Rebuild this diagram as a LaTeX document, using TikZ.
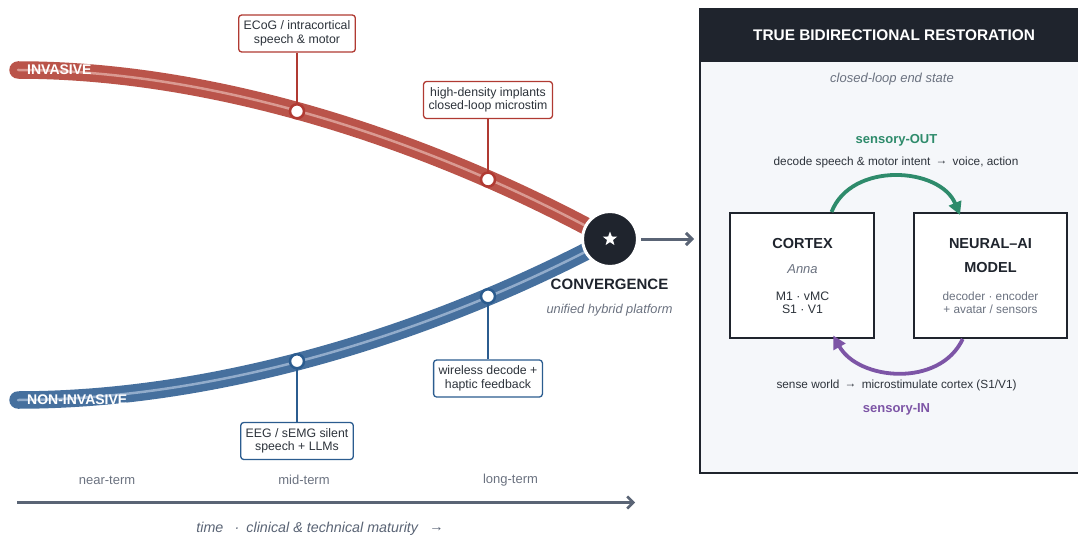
\documentclass[tikz,border=0pt]{standalone}
\usepackage{fontspec}
\setmainfont{Liberation Sans}
\usetikzlibrary{arrows.meta,shapes.geometric,calc}
\definecolor{invred}{HTML}{BA544A}
\definecolor{invlight}{HTML}{DA9A92}
\definecolor{invdark}{HTML}{B03A32}
\definecolor{nonblue}{HTML}{46709E}
\definecolor{nonlight}{HTML}{92ACCB}
\definecolor{nondark}{HTML}{2B5C8F}
\definecolor{ink}{HTML}{1F242D}
\definecolor{txt}{HTML}{2D333B}
\definecolor{muted}{HTML}{6B7280}
\definecolor{axisgray}{HTML}{5A6475}
\definecolor{panelbg}{HTML}{F5F7FA}
\definecolor{outgreen}{HTML}{2E8B6B}
\definecolor{inpurple}{HTML}{7D55A6}
\newcommand{\rarr}{\raisebox{0.6pt}{→}}
\begin{document}
\begin{tikzpicture}[x=1pt,y=-1pt,
  track/.style={line width=17.5pt, line cap=round, draw=#1},
  stripe/.style={line width=2.5pt, draw=#1, line cap=round},
  marker/.style={circle, fill=white, draw=#1, line width=2.5pt, minimum size=14pt, inner sep=0pt},
  callout/.style={draw=#1, line width=1.3pt, fill=white, rounded corners=3pt, align=center,
    font=\fontsize{12.3}{13.4}\selectfont, text=txt, inner xsep=5pt, inner ysep=4pt, minimum height=37pt},
  leader/.style={draw=#1, line width=1.3pt},
  tracklabel/.style={font=\fontsize{14}{16}\selectfont\bfseries, text=white, anchor=west, inner sep=0pt},
  timelabel/.style={font=\fontsize{13}{15}\selectfont, text=muted},
  grayarrow/.style={draw=axisgray, line width=#1, -{Straight Barb[length=6pt,width=12pt]}},
  boxnode/.style={draw=ink, line width=2pt, fill=white, inner sep=0pt, minimum height=125pt},
  boxtitle/.style={font=\fontsize{14.5}{17}\selectfont\bfseries, text=ink},
  loop/.style={draw=#1, line width=3.8pt, -{Triangle[length=13pt,width=13pt]}},
  small/.style={font=\fontsize{11.8}{13.4}\selectfont, text=txt, align=center}
]
\useasboundingbox (0,0) rectangle (1078,540);

% right panel
\node[draw=ink, line width=2pt, fill=panelbg, minimum width=388pt, minimum height=464pt,
  inner sep=0pt, anchor=north west] (panel) at (699,8) {};
\node[fill=ink, minimum width=388pt, minimum height=54pt, inner sep=0pt, anchor=north,
  font=\fontsize{15.4}{18}\selectfont\bfseries, text=white] (header) at (panel.north)
  {TRUE BIDIRECTIONAL RESTORATION};
\node[font=\fontsize{13}{15}\selectfont\itshape, text=muted] (endstate) at (892,79) {closed-loop end state};
\node[font=\fontsize{13}{15}\selectfont\bfseries, text=outgreen] (outlab) at (896.5,140) {sensory-OUT};
\node[small] (outdesc) at (896,162) {decode speech \& motor intent \,\rarr\, voice, action};
\node[small] (indesc) at (896.5,385) {sense world \,\rarr\, microstimulate cortex (S1/V1)};
\node[font=\fontsize{13}{15}\selectfont\bfseries, text=inpurple] (inlab) at (896.5,409) {sensory-IN};

\node[boxnode, minimum width=144pt] (cortex) at (802,275.5) {};
\node[boxnode, minimum width=153pt] (model) at (990.5,275.5) {};
\node[boxtitle] (cortt) at (802.5,243.5) {CORTEX};
\node[font=\fontsize{13}{15}\selectfont\itshape, text=muted] (anna) at (802.5,269.5) {Anna};
\node[font=\fontsize{12.3}{13.4}\selectfont, text=txt, align=center] (areas) at (802.5,302.7) {M1 · vMC\\S1 · V1};
\node[boxtitle] (modt1) at (990.5,244) {NEURAL–AI};
\node[boxtitle] (modt2) at (990.5,267.5) {MODEL};
\node[font=\fontsize{11.8}{13.4}\selectfont, text=muted, align=center] (moddesc) at (990.5,302.7) {decoder · encoder\\+ avatar / sensors};

\draw[loop=outgreen] ([xshift=29.5pt]cortex.north) .. controls +(20,-51) and +(-20,-48) .. ([xshift=-30.5pt,yshift=-3pt]model.north);
\draw[loop=inpurple] ([xshift=-27.8pt]model.south) .. controls +(-23,49) and +(25,45) .. ([xshift=31.3pt,yshift=3.5pt]cortex.south);

% tracks
\coordinate (convpt) at (610,239);
\coordinate (invstart) at (18,70);
\coordinate (nonstart) at (18,400);
\draw[track=invred] (invstart) .. controls (215,70) and (430,140) .. (convpt)
  coordinate[pos=0.465] (im1) coordinate[pos=0.785] (im2);
\draw[stripe=invlight] (invstart) .. controls (215,70) and (430,140) .. (convpt);
\draw[track=nonblue] (nonstart) .. controls (215,400) and (430,335) .. (convpt)
  coordinate[pos=0.465] (nm1) coordinate[pos=0.785] (nm2);
\draw[stripe=nonlight] (nonstart) .. controls (215,400) and (430,335) .. (convpt);

\node[tracklabel] (invlab) at (27,70) {INVASIVE};
\node[tracklabel] (nonlab) at (27,400) {NON-INVASIVE};

% callouts
\node[callout=invdark] (c1) at (297,33.5) {ECoG / intracortical\\speech \& motor};
\node[callout=invdark] (c2) at (488,100) {high-density implants\\closed-loop microstim};
\node[callout=nondark] (c3) at (488,378.5) {wireless decode +\\haptic feedback};
\node[callout=nondark] (c4) at (297,441) {EEG / sEMG silent\\speech + LLMs};
\draw[leader=invdark] (c1.south) -- (c1.south |- im1);
\draw[leader=invdark] (c2.south) -- (c2.south |- im2);
\draw[leader=nondark] (c3.north) -- (c3.north |- nm2);
\draw[leader=nondark] (c4.north) -- (c4.north |- nm1);
\node[marker=invdark] (mk1) at (c1.south |- im1) {};
\node[marker=invdark] (mk2) at (c2.south |- im2) {};
\node[marker=nondark] (mk3) at (c3.north |- nm2) {};
\node[marker=nondark] (mk4) at (c4.north |- nm1) {};

% convergence
\node[circle, fill=ink, draw=white, line width=3pt, minimum size=55pt, inner sep=0pt] (conv) at (convpt) {};
\node[star, star points=5, star point ratio=2.4, fill=white, minimum size=15pt, inner sep=0pt] (star) at (conv.center) {};
\node[font=\fontsize{15}{18}\selectfont\bfseries, text=ink] (convlab) at (609.5,284) {CONVERGENCE};
\node[font=\fontsize{12.8}{15}\selectfont\itshape, text=muted] (convsub) at (609.5,310.5) {unified hybrid platform};
\draw[grayarrow=3pt] ([xshift=2pt]conv.east) -- ([xshift=-5pt]panel.west |- conv);

% time axis
\node[timelabel] (near) at (107,480) {near-term};
\node[timelabel] (mid) at (304,480) {mid-term};
\node[timelabel] (long) at (510.5,480) {long-term};
\coordinate (axs) at (17,502.5);
\coordinate (axe) at (635,502.5);
\draw[grayarrow=2.5pt] (axs) -- (axe);
\node[font=\fontsize{14.3}{16}\selectfont\itshape, text=axisgray] (axislab) at (320,528.5)
  {time \enspace·\enspace clinical \& technical maturity \enspace\rarr};
\end{tikzpicture}
\end{document}
